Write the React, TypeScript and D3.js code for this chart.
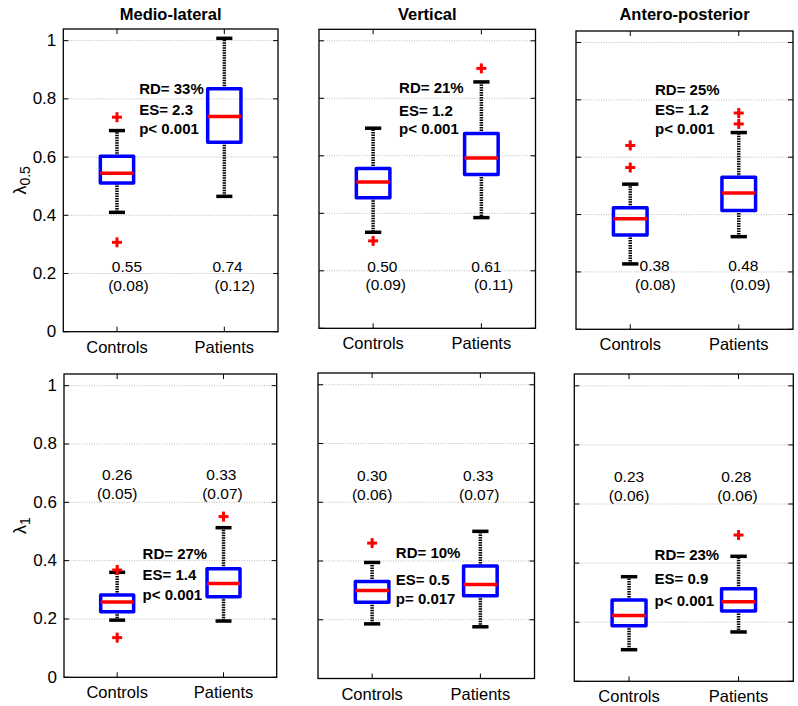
import React from 'react';
import * as d3 from 'd3';

// ---------- data ----------
const categories = ['Controls', 'Patients'];
const directionTitles = ['Medio-lateral', 'Vertical', 'Antero-posterior'];
const yTicks = [0, 0.2, 0.4, 0.6, 0.8, 1];
const yTickLabels = ['0', '0.2', '0.4', '0.6', '0.8', '1'];

// panels: [ML λ0.5, V λ0.5, AP λ0.5, ML λ1, V λ1, AP λ1]; groups: [Controls, Patients]
const lowerWhisker = [[0.41, 0.465], [0.334, 0.385], [0.228, 0.323], [0.196, 0.193], [0.186, 0.176], [0.107, 0.167]];
const q1 = [[0.511, 0.651], [0.454, 0.535], [0.329, 0.414], [0.225, 0.276], [0.26, 0.282], [0.188, 0.238]];
const medians = [[0.544, 0.739], [0.509, 0.592], [0.385, 0.475], [0.258, 0.322], [0.3, 0.32], [0.223, 0.269]];
const q3 = [[0.603, 0.835], [0.556, 0.678], [0.424, 0.53], [0.282, 0.372], [0.33, 0.383], [0.275, 0.313]];
const upperWhisker = [[0.691, 1.008], [0.696, 0.857], [0.506, 0.686], [0.36, 0.513], [0.395, 0.501], [0.354, 0.423]];
const outliers = [
  [[0.737, 0.307], []],
  [[0.304], [0.904]],
  [[0.641, 0.564], [0.754, 0.716]],
  [[0.368, 0.136], [0.551]],
  [[0.461], []],
  [[], [0.495]],
];
const meanLabels = [['0.55', '0.74'], ['0.50', '0.61'], ['0.38', '0.48'], ['0.26', '0.33'], ['0.30', '0.33'], ['0.23', '0.28']];
const sdLabels = [['(0.08)', '(0.12)'], ['(0.09)', '(0.11)'], ['(0.08)', '(0.09)'], ['(0.05)', '(0.07)'], ['(0.06)', '(0.07)'], ['(0.06)', '(0.06)']];
const rdLabels = ['RD= 33%', 'RD= 21%', 'RD= 25%', 'RD= 27%', 'RD= 10%', 'RD= 23%'];
const esLabels = ['ES= 2.3', 'ES= 1.2', 'ES= 1.2', 'ES= 1.4', 'ES= 0.5', 'ES= 0.9'];
const pLabels = ['p< 0.001', 'p< 0.001', 'p< 0.001', 'p< 0.001', 'p= 0.017', 'p< 0.001'];
const yLabelSubs = ['0.5', '1'];

// ---------- layout ----------
const W = 798, H = 706;
const FONT = 'Arial, "Liberation Sans", Helvetica, sans-serif';
const panelBoxes = [
  { x0: 63.3, x1: 278, y0: 29, y1: 331.7 },
  { x0: 319, x1: 535.5, y0: 29.3, y1: 328.3 },
  { x0: 576, x1: 793, y0: 31, y1: 329.3 },
  { x0: 64, x1: 276.7, y0: 374, y1: 677.3 },
  { x0: 318, x1: 534.5, y0: 373, y1: 678.5 },
  { x0: 574.3, x1: 793.3, y0: 374, y1: 681.3 },
];
const Y_MAX = 1.04;
const meanPos = [
  { x: [[1.093, 1.107], [2.03, 2.097]], y: [0.224, 0.158] },
  { x: [[1.085, 1.117], [2.046, 2.113]], y: [0.214, 0.151] },
  { x: [[1.225, 1.231], [2.042, 2.106]], y: [0.224, 0.155] },
  { x: [[1.0, 1.0], [1.98, 1.99]], y: [0.694, 0.629] },
  { x: [[1.0, 1.0], [1.98, 1.99]], y: [0.691, 0.627] },
  { x: [[1.0, 1.0], [1.98, 1.99]], y: [0.692, 0.628] },
];
const statPos = [
  { x: 1.207, y: [0.835, 0.763, 0.698] },
  { x: 1.24, y: [0.837, 0.759, 0.695] },
  { x: 1.228, y: [0.837, 0.768, 0.701] },
  { x: 1.239, y: [0.425, 0.351, 0.285] },
  { x: 1.219, y: [0.429, 0.337, 0.272] },
  { x: 1.233, y: [0.429, 0.348, 0.274] },
];
const BOX_W = 0.31;
const CAP_W = 0.15;

function Panel({ i }: { i: number }) {
  const b = panelBoxes[i];
  const row = Math.floor(i / 3);
  const col = i % 3;
  const x = d3.scaleLinear().domain([0.5, 2.5]).range([b.x0, b.x1]);
  const y = d3.scaleLinear().domain([0, Y_MAX]).range([b.y1, b.y0]);
  const tickLen = 5;
  return (
    <g>
      {yTicks.slice(1).map((t) => (
        <line key={'g' + t} x1={b.x0} x2={b.x1} y1={y(t)} y2={y(t)} stroke="#a8a8a8" strokeWidth={0.8} strokeDasharray="1,1.5" />
      ))}
      {yTicks.map((t) => (
        <g key={'t' + t}>
          <line x1={b.x0} x2={b.x0 + tickLen} y1={y(t)} y2={y(t)} stroke="#000" strokeWidth={1} />
          <line x1={b.x1} x2={b.x1 - tickLen} y1={y(t)} y2={y(t)} stroke="#000" strokeWidth={1} />
        </g>
      ))}
      {categories.map((c, k) => (
        <g key={'xt' + c}>
          <line x1={x(k + 1)} x2={x(k + 1)} y1={b.y1} y2={b.y1 - tickLen} stroke="#000" strokeWidth={1} />
          <line x1={x(k + 1)} x2={x(k + 1)} y1={b.y0} y2={b.y0 + tickLen} stroke="#000" strokeWidth={1} />
          <text x={x(k + 1)} y={b.y1 + 15} fontSize={16.5} fontFamily={FONT} textAnchor="middle" dominantBaseline="central">{c}</text>
        </g>
      ))}
      {col === 0 && yTicks.map((t, k) => (
        <text key={'yl' + t} x={b.x0 - 7} y={y(t)} fontSize={17} fontFamily={FONT} textAnchor="end" dominantBaseline="central">{yTickLabels[k]}</text>
      ))}
      {categories.map((c, k) => {
        const cx = x(k + 1);
        const bw = x(1 + BOX_W / 2) - x(1);
        const cw = x(1 + CAP_W / 2) - x(1);
        return (
          <g key={'b' + c}>
            <line x1={cx} x2={cx} y1={y(q3[i][k])} y2={y(upperWhisker[i][k])} stroke="#000" strokeWidth={3.5} strokeDasharray="1.5,1" />
            <line x1={cx} x2={cx} y1={y(q1[i][k])} y2={y(lowerWhisker[i][k])} stroke="#000" strokeWidth={3.5} strokeDasharray="1.5,1" />
            <line x1={cx - cw} x2={cx + cw} y1={y(upperWhisker[i][k])} y2={y(upperWhisker[i][k])} stroke="#000" strokeWidth={3.5} />
            <line x1={cx - cw} x2={cx + cw} y1={y(lowerWhisker[i][k])} y2={y(lowerWhisker[i][k])} stroke="#000" strokeWidth={3.5} />
            <rect x={cx - bw} y={y(q3[i][k])} width={2 * bw} height={y(q1[i][k]) - y(q3[i][k])} fill="none" stroke="#0000ff" strokeWidth={3.5} strokeLinejoin="round" />
            <line x1={cx - bw} x2={cx + bw} y1={y(medians[i][k])} y2={y(medians[i][k])} stroke="#ff0000" strokeWidth={3.5} />
            {outliers[i][k].map((o, j) => (
              <g key={'o' + j} stroke="#ff0000" strokeWidth={3}>
                <line x1={cx - 5} x2={cx + 5} y1={y(o)} y2={y(o)} />
                <line x1={cx} x2={cx} y1={y(o) - 5} y2={y(o) + 5} />
              </g>
            ))}
            <text x={x(meanPos[i].x[k][0])} y={y(meanPos[i].y[0])} fontSize={15.5} fontFamily={FONT} textAnchor="middle" dominantBaseline="central">{meanLabels[i][k]}</text>
            <text x={x(meanPos[i].x[k][1])} y={y(meanPos[i].y[1])} fontSize={15.5} fontFamily={FONT} textAnchor="middle" dominantBaseline="central">{sdLabels[i][k]}</text>
          </g>
        );
      })}
      {[rdLabels[i], esLabels[i], pLabels[i]].map((s, k) => (
        <text key={'s' + k} x={x(statPos[i].x)} y={y(statPos[i].y[k])} fontSize={15} fontWeight="bold" fontFamily={FONT} dominantBaseline="central">{s}</text>
      ))}
      <rect x={b.x0} y={b.y0} width={b.x1 - b.x0} height={b.y1 - b.y0} fill="none" stroke="#000" strokeWidth={1.3} />
      {row === 0 && (
        <text x={(b.x0 + b.x1) / 2} y={14} fontSize={16.5} fontWeight="bold" fontFamily={FONT} textAnchor="middle" dominantBaseline="central">{directionTitles[col]}</text>
      )}
      {col === 0 && (
        <text transform={`translate(20,${(b.y0 + b.y1) / 2}) rotate(-90)`} fontSize={18} fontFamily={FONT} textAnchor="middle" dominantBaseline="central">
          λ<tspan fontSize={14} dy={5}>{yLabelSubs[row]}</tspan>
        </text>
      )}
    </g>
  );
}

export default function App() {
  return (
    <svg width={W} height={H} style={{ position: 'absolute', left: 0, top: 0, background: '#fff' }}>
      <rect width={W} height={H} fill="#fff" />
      {panelBoxes.map((_, i) => <Panel key={i} i={i} />)}
    </svg>
  );
}
